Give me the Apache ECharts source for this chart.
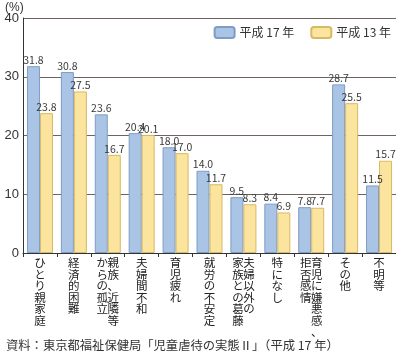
<!DOCTYPE html>
<html><head><meta charset="utf-8">
<script src="https://cdn.jsdelivr.net/npm/echarts@6/dist/echarts.min.js"></script>
<style>html,body{margin:0;padding:0;background:#fff}#c{width:396px;height:356px}</style>
</head><body><div id="c"></div>
<script>
// category names; '|' separates vertical columns (right column first)
const categories = ["ひとり親家庭","経済的困難","親族、近隣等|からの孤立","夫婦間不和","育児疲れ","就労の不安定","夫婦以外の|家族との葛藤","特になし","育児に嫌悪感、|拒否感情","その他","不明等"];
const seriesNames = ["平成 17 年","平成 13 年"];
const h17 = [31.8,30.8,23.6,20.4,18.0,14.0,9.5,8.4,7.8,28.7,11.5];
const h13 = [23.8,27.5,16.7,20.1,17.0,11.7,8.3,6.9,7.7,25.5,15.7];
const yTicks = [0,10,20,30,40];
const unitLabel = "(%)";
const sourceText = "資料：東京都福祉保健局「児童虐待の実態Ⅱ」（平成 17 年）";

const FONT = '"Noto Sans CJK JP", sans-serif';
function vertical(name){
  const cols = name.split('|');
  const n = Math.max(...cols.map(c=>c.length));
  const rows = [];
  for(let i=0;i<n;i++){
    let r='';
    for(let j=cols.length-1;j>=0;j--){ r += '{a|' + (cols[j][i]||'　') + '}'; }
    rows.push(r);
  }
  return rows.join('\n');
}
const chart = echarts.init(document.getElementById('c'), null, {renderer:'canvas'});
const lbl = {show:true, position:'top', distance:1, fontSize:10.5, color:'#3a3a3a', fontFamily:FONT, formatter:p=>p.value.toFixed(1)};
chart.setOption({
  animation:false,
  textStyle:{fontFamily:FONT},
  title:[
    {text:unitLabel, left:3, top:0, padding:[2,2,2,2], textStyle:{fontSize:12, fontWeight:'normal', color:'#333', fontFamily:'"Liberation Sans", sans-serif'}},
    {text:sourceText, left:1, bottom:0, textStyle:{fontSize:12.3, fontWeight:'normal', color:'#333', fontFamily:FONT}}
  ],
  legend:{
    data:seriesNames, right:0, top:21, itemWidth:20, itemHeight:11, itemGap:16,
    textStyle:{fontSize:12, color:'#333', fontFamily:FONT}
  },
  grid:{left:23, right:0, top:18, bottom:103, containLabel:false},
  xAxis:{
    type:'category', data:categories,
    axisLine:{lineStyle:{color:'#333', width:1}},
    axisTick:{show:true, length:4, lineStyle:{color:'#333'}},
    axisLabel:{interval:0, margin:4, color:'#222', fontFamily:FONT, formatter:vertical, verticalAlign:'top', align:'center',
      rich:{a:{width:11, align:'center', fontSize:11.5, lineHeight:11.5, color:'#222', fontFamily:FONT}}}
  },
  yAxis:{
    type:'value', min:yTicks[0], max:yTicks[yTicks.length-1], interval:10,
    axisLine:{show:true, lineStyle:{color:'#333'}},
    axisTick:{show:false},
    splitLine:{lineStyle:{color:'#6e6360', width:1.2}},
    axisLabel:{fontSize:13, color:'#333', margin:4, fontFamily:'"Liberation Sans", sans-serif'}
  },
  series:[
    {name:seriesNames[0], type:'bar', data:h17, barWidth:13, barGap:'0%',
     itemStyle:{color:'#a9c4e5', borderColor:'#7e9cc6', borderWidth:1}, label:lbl},
    {name:seriesNames[1], type:'bar', data:h13, barWidth:13,
     itemStyle:{color:'#fbe49d', borderColor:'#d8b965', borderWidth:1}, label:lbl}
  ]
});
</script></body></html>
